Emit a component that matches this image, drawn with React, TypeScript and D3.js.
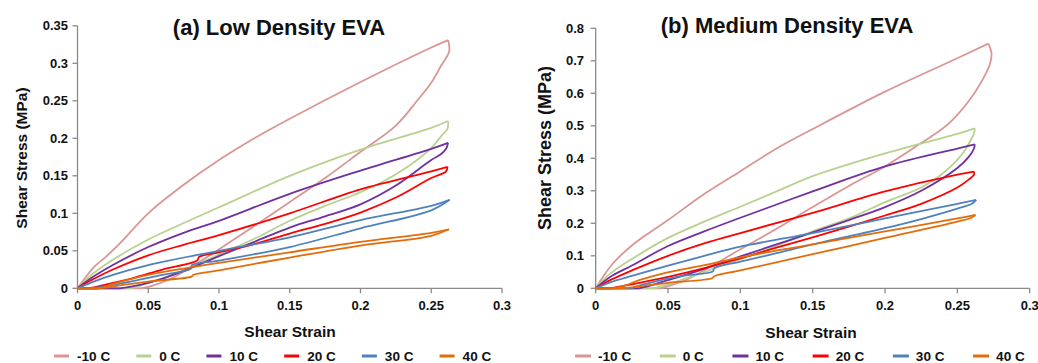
import React from "react";
import * as d3 from "d3";

// ---------- categories, ticks, colours ----------
const temperatures = ["-10 C", "0 C", "10 C", "20 C", "30 C", "40 C"];
const seriesColors = ["#D99694", "#B9D18F", "#7030A0", "#FF0000", "#4F81BD", "#E46C0A"];
const strainTicks = [0, 0.05, 0.1, 0.15, 0.2, 0.25, 0.3];
const lowStressTicks = [0, 0.05, 0.1, 0.15, 0.2, 0.25, 0.3, 0.35];
const medStressTicks = [0, 0.1, 0.2, 0.3, 0.4, 0.5, 0.6, 0.7, 0.8];

// ---------- (a) Low density EVA: [strain, stress MPa] ----------
const lowLoadM10 = [[0, 0], [0.005, 0.013], [0.012, 0.029], [0.02, 0.042], [0.03, 0.06], [0.05, 0.1], [0.075, 0.138], [0.1, 0.171], [0.125, 0.2], [0.15, 0.226], [0.2, 0.275], [0.25, 0.321], [0.2619, 0.331]];
const lowUnloadM10 = [[0.2619, 0.331], [0.2627, 0.316], [0.257, 0.297], [0.25, 0.274], [0.24, 0.25], [0.225, 0.217], [0.2, 0.182], [0.175, 0.147], [0.15, 0.115], [0.125, 0.083], [0.1, 0.052], [0.08, 0.028], [0.065, 0.012], [0.052, 0.003], [0.045, 0]];
const lowLoad0 = [[0, 0], [0.01, 0.018], [0.025, 0.038], [0.05, 0.065], [0.075, 0.087], [0.1, 0.108], [0.15, 0.15], [0.2, 0.185], [0.25, 0.214], [0.2619, 0.223]];
const lowUnload0 = [[0.2619, 0.223], [0.2615, 0.213], [0.257, 0.203], [0.25, 0.187], [0.225, 0.152], [0.2, 0.128], [0.175, 0.11], [0.15, 0.09], [0.125, 0.066], [0.1, 0.045], [0.08, 0.028], [0.06, 0.013], [0.045, 0.004], [0.038, 0]];
const lowLoad10 = [[0, 0], [0.01, 0.014], [0.025, 0.031], [0.05, 0.055], [0.075, 0.074], [0.1, 0.09], [0.15, 0.126], [0.2, 0.157], [0.25, 0.186], [0.2619, 0.194]];
const lowUnload10 = [[0.2619, 0.194], [0.2605, 0.186], [0.257, 0.179], [0.25, 0.171], [0.225, 0.137], [0.2, 0.112], [0.175, 0.096], [0.15, 0.081], [0.125, 0.062], [0.1, 0.043], [0.08, 0.027], [0.06, 0.013], [0.045, 0.005], [0.03, 0]];
const lowLoad20 = [[0, 0], [0.01, 0.011], [0.025, 0.025], [0.05, 0.044], [0.075, 0.058], [0.1, 0.071], [0.15, 0.1], [0.2, 0.132], [0.25, 0.156], [0.2615, 0.162]];
const lowUnload20 = [[0.2615, 0.162], [0.2605, 0.156], [0.25, 0.147], [0.225, 0.121], [0.2, 0.101], [0.175, 0.086], [0.15, 0.073], [0.125, 0.059], [0.1, 0.048], [0.086, 0.042], [0.0845, 0.037], [0.06, 0.025], [0.04, 0.014], [0.02, 0.005], [0.008, 0]];
const lowLoad30 = [[0, 0], [0.01, 0.008], [0.025, 0.018], [0.05, 0.031], [0.1, 0.05], [0.15, 0.068], [0.2, 0.091], [0.25, 0.11], [0.263, 0.118]];
const lowUnload30 = [[0.263, 0.118], [0.25, 0.104], [0.2, 0.08], [0.15, 0.055], [0.1, 0.037], [0.081, 0.031], [0.08, 0.026], [0.06, 0.018], [0.04, 0.01], [0.02, 0.003], [0.01, 0]];
const lowLoad40 = [[0, 0], [0.015, 0], [0.025, 0.006], [0.05, 0.018], [0.0865, 0.03], [0.1, 0.034], [0.15, 0.048], [0.2, 0.062], [0.25, 0.074], [0.2625, 0.0787]];
const lowUnload40 = [[0.2625, 0.0787], [0.25, 0.07], [0.2, 0.057], [0.15, 0.041], [0.1, 0.024], [0.082, 0.018], [0.0805, 0.0155], [0.05, 0.009], [0.03, 0.004], [0.02, 0.001], [0.015, 0]];

// ---------- (b) Medium density EVA ----------
const medLoadM10 = [[0, 0], [0.005, 0.035], [0.012, 0.077], [0.024, 0.128], [0.035, 0.165], [0.05, 0.21], [0.075, 0.29], [0.1, 0.36], [0.125, 0.43], [0.15, 0.49], [0.2, 0.605], [0.25, 0.708], [0.2714, 0.753]];
const medUnloadM10 = [[0.2714, 0.753], [0.2736, 0.723], [0.2725, 0.69], [0.2667, 0.636], [0.2575, 0.574], [0.2436, 0.505], [0.225, 0.447], [0.2, 0.375], [0.175, 0.315], [0.15, 0.25], [0.125, 0.183], [0.1, 0.12], [0.08, 0.068], [0.063, 0.027], [0.051, 0.008], [0.045, 0]];
const medLoad0 = [[0, 0], [0.01, 0.045], [0.025, 0.09], [0.05, 0.155], [0.075, 0.205], [0.1, 0.251], [0.125, 0.298], [0.15, 0.345], [0.2, 0.415], [0.25, 0.475], [0.262, 0.492]];
const medUnload0 = [[0.262, 0.492], [0.2615, 0.476], [0.26, 0.462], [0.2528, 0.41], [0.239, 0.35], [0.225, 0.31], [0.2, 0.265], [0.175, 0.215], [0.15, 0.175], [0.125, 0.13], [0.1, 0.09], [0.075, 0.05], [0.06, 0.027], [0.05, 0.012], [0.04, 0]];
const medLoad10 = [[0, 0], [0.01, 0.035], [0.025, 0.07], [0.05, 0.13], [0.075, 0.175], [0.1, 0.217], [0.15, 0.298], [0.2, 0.375], [0.25, 0.43], [0.262, 0.443]];
const medUnload10 = [[0.262, 0.443], [0.2615, 0.43], [0.258, 0.405], [0.25, 0.37], [0.225, 0.3], [0.2, 0.25], [0.175, 0.21], [0.15, 0.172], [0.125, 0.135], [0.1, 0.098], [0.075, 0.06], [0.05, 0.025], [0.035, 0.005], [0.03, 0]];
const medLoad20 = [[0, 0], [0.01, 0.025], [0.025, 0.055], [0.05, 0.1], [0.075, 0.138], [0.1, 0.17], [0.15, 0.232], [0.2, 0.298], [0.25, 0.35], [0.2615, 0.359]];
const medUnload20 = [[0.2615, 0.359], [0.2615, 0.35], [0.258, 0.335], [0.25, 0.31], [0.225, 0.26], [0.2, 0.224], [0.175, 0.19], [0.15, 0.157], [0.125, 0.125], [0.1, 0.092], [0.075, 0.062], [0.05, 0.035], [0.025, 0.012], [0.01, 0]];
const medLoad30 = [[0, 0], [0.01, 0.018], [0.025, 0.038], [0.05, 0.07], [0.075, 0.1], [0.1, 0.128], [0.15, 0.17], [0.2, 0.215], [0.25, 0.26], [0.263, 0.272]];
const medUnload30 = [[0.263, 0.272], [0.26, 0.26], [0.25, 0.245], [0.225, 0.213], [0.2, 0.185], [0.15, 0.135], [0.125, 0.108], [0.1, 0.082], [0.082, 0.062], [0.081, 0.052], [0.06, 0.038], [0.04, 0.02], [0.03, 0.008], [0.025, 0]];
const medLoad40 = [[0, 0], [0.012, 0], [0.02, 0.008], [0.03, 0.025], [0.047, 0.046], [0.06, 0.058], [0.0813, 0.077], [0.1, 0.095], [0.1275, 0.118], [0.15, 0.135], [0.2, 0.175], [0.25, 0.215], [0.2625, 0.226]];
const medUnload40 = [[0.2625, 0.226], [0.26, 0.218], [0.25, 0.205], [0.2, 0.155], [0.15, 0.105], [0.1, 0.055], [0.082, 0.037], [0.0805, 0.031], [0.05, 0.017], [0.03, 0.006], [0.02, 0.001], [0.015, 0]];

const lowLoading = [lowLoadM10, lowLoad0, lowLoad10, lowLoad20, lowLoad30, lowLoad40];
const lowUnloading = [lowUnloadM10, lowUnload0, lowUnload10, lowUnload20, lowUnload30, lowUnload40];
const medLoading = [medLoadM10, medLoad0, medLoad10, medLoad20, medLoad30, medLoad40];
const medUnloading = [medUnloadM10, medUnload0, medUnload10, medUnload20, medUnload30, medUnload40];

const FONT = "'Liberation Sans', Arial, Helvetica, sans-serif";
const fmt = (v: number) => String(+v.toFixed(2));

type PanelProps = {
  title: string;
  titleX: number;
  titleY: number;
  x0: number;
  x1: number;
  yBottom: number;
  yTop: number;
  yMax: number;
  yTicks: number[];
  loading: number[][][];
  unloading: number[][][];
  yLabelX: number;
  yLabelY: number;
  yLabelSize: number;
  xLabelX: number;
  xLabelY: number;
  yTickLabelX: number;
  legendStart: number;
  legendLine: number;
  legendGap: number;
  legendSpacing: number;
};

function textWidth(s: string, size: number) {
  const w: Record<string, number> = { "-": 0.333, " ": 0.278, C: 0.722 };
  let t = 0;
  for (const c of s) t += w[c] ?? 0.556;
  return t * size;
}

function Panel(p: PanelProps) {
  const x = d3.scaleLinear().domain([0, 0.3]).range([p.x0, p.x1]);
  const y = d3.scaleLinear().domain([0, p.yMax]).range([p.yBottom, p.yTop]);
  const line = d3
    .line<number[]>()
    .x((d) => x(d[0]))
    .y((d) => y(d[1]))
    .curve(d3.curveCatmullRom.alpha(0.5));
  const axisColor = "#8a8a8a";
  const legendFont = 13.6;
  let lx = p.legendStart;
  const legendItems = temperatures.map((t, i) => {
    const start = lx;
    lx += p.legendLine + p.legendGap + textWidth(t, legendFont) + p.legendSpacing;
    return { t, i, start };
  });
  return (
    <g>
      <text x={p.titleX} y={p.titleY} textAnchor="middle" fontFamily={FONT} fontWeight="bold" fontSize={22} fill="#111">
        {p.title}
      </text>
      {/* axes */}
      <line x1={p.x0} x2={p.x1} y1={p.yBottom} y2={p.yBottom} stroke={axisColor} strokeWidth={1.3} />
      <line x1={p.x0} x2={p.x0} y1={p.yBottom} y2={p.yTop} stroke={axisColor} strokeWidth={1.3} />
      {strainTicks.map((t) => (
        <g key={"xt" + t}>
          <line x1={x(t)} x2={x(t)} y1={p.yBottom} y2={p.yBottom + 5} stroke={axisColor} strokeWidth={1.3} />
          <text x={x(t)} y={p.yBottom + 22} textAnchor="middle" fontFamily={FONT} fontWeight="bold" fontSize={13} fill="#111">
            {fmt(t)}
          </text>
        </g>
      ))}
      {p.yTicks.map((t) => (
        <g key={"yt" + t}>
          <line x1={p.x0 - 5} x2={p.x0} y1={y(t)} y2={y(t)} stroke={axisColor} strokeWidth={1.3} />
          <text x={p.yTickLabelX} y={y(t) + 4.5} textAnchor="end" fontFamily={FONT} fontWeight="bold" fontSize={13} fill="#111">
            {fmt(t)}
          </text>
        </g>
      ))}
      {/* loops */}
      {temperatures.map((t, i) => {
        const up = p.loading[i];
        const down = p.unloading[i];
        const last = down[down.length - 1];
        return (
          <g key={"loop" + t} fill="none" stroke={seriesColors[i]} strokeWidth={1.8} strokeLinejoin="round">
            <path d={line(up) || ""} />
            <path d={line(down) || ""} />
            <path d={`M${x(last[0])},${y(last[1])}L${x(0)},${y(0)}`} />
          </g>
        );
      })}
      {/* axis labels */}
      <text
        transform={`translate(${p.yLabelX},${p.yLabelY}) rotate(-90)`}
        textAnchor="middle"
        dominantBaseline="central"
        fontFamily={FONT}
        fontWeight="bold"
        fontSize={p.yLabelSize}
        fill="#111"
      >
        Shear Stress (MPa)
      </text>
      <text x={p.xLabelX} y={p.xLabelY} textAnchor="middle" fontFamily={FONT} fontWeight="bold" fontSize={15.5} fill="#111">
        Shear Strain
      </text>
      {/* legend */}
      {legendItems.map(({ t, i, start }) => (
        <g key={"lg" + t}>
          <line x1={start} x2={start + p.legendLine} y1={356} y2={356} stroke={seriesColors[i]} strokeWidth={3} />
          <text x={start + p.legendLine + p.legendGap} y={361} fontFamily={FONT} fontWeight="bold" fontSize={legendFont} fill="#111">
            {t}
          </text>
        </g>
      ))}
    </g>
  );
}

export default function App() {
  return (
    <svg
      width={1038}
      height={363}
      viewBox="0 0 1038 363"
      style={{ position: "absolute", left: 0, top: 0, background: "#fff" }}
    >
      <rect x={0} y={0} width={1038} height={363} fill="#fff" />
      <Panel
        title="(a) Low Density EVA"
        titleX={279}
        titleY={35}
        x0={77.5}
        x1={502}
        yBottom={288.3}
        yTop={25.8}
        yMax={0.35}
        yTicks={lowStressTicks}
        loading={lowLoading}
        unloading={lowUnloading}
        yLabelX={21}
        yLabelY={158}
        yLabelSize={15.5}
        xLabelX={290}
        xLabelY={337}
        yTickLabelX={68}
        legendStart={54}
        legendLine={15}
        legendGap={8}
        legendSpacing={26}
      />
      <Panel
        title="(b) Medium Density EVA"
        titleX={787}
        titleY={33}
        x0={595.7}
        x1={1029.7}
        yBottom={288.3}
        yTop={28.3}
        yMax={0.8}
        yTicks={medStressTicks}
        loading={medLoading}
        unloading={medUnloading}
        yLabelX={545}
        yLabelY={148}
        yLabelSize={18}
        xLabelX={811}
        xLabelY={338}
        yTickLabelX={584}
        legendStart={575}
        legendLine={16}
        legendGap={7}
        legendSpacing={28.5}
      />
    </svg>
  );
}
